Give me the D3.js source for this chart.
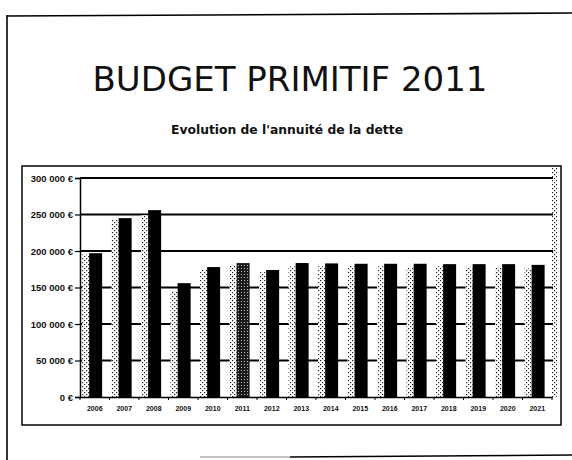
<!DOCTYPE html>
<html>
<head>
<meta charset="utf-8">
<script src="https://cdn.jsdelivr.net/npm/d3@7"></script>
<style>
  html, body { margin: 0; padding: 0; background: #fff; }
  svg { display: block; }
</style>
</head>
<body>
<svg id="chart" width="572" height="460"></svg>
<script>
// ---- data ----
const title = "BUDGET PRIMITIF 2011";
const subtitle = "Evolution de l'annuité de la dette";
const categories = ["2006","2007","2008","2009","2010","2011","2012","2013","2014","2015","2016","2017","2018","2019","2020","2021"];
const annuiteValues = [197000, 245000, 256000, 156000, 178000, 183500, 174000, 183500, 183000, 182500, 182500, 182500, 182000, 182000, 182000, 181000];
const secondValues  = [195000, 242500, 249000, 145000, 174000, 181000, 171000, 179000, 179000, 180000, 179000, 177000, 179000, 178000, 178000, 176000];
const highlightCategory = "2011";
const yTickValues = [0, 50000, 100000, 150000, 200000, 250000, 300000];
const yTickLabels = ["0 €", "50 000 €", "100 000 €", "150 000 €", "200 000 €", "250 000 €", "300 000 €"];

// ---- layout ----
const svg = d3.select("#chart");
const plot = { left: 80, right: 552, top: 178, bottom: 397 };

const defs = svg.append("defs");
// sparse dotted pattern (light series as scanned)
const pLight = defs.append("pattern").attr("id", "dots").attr("patternUnits", "userSpaceOnUse")
  .attr("width", 4).attr("height", 4);
pLight.append("rect").attr("width", 4).attr("height", 4).attr("fill", "#fff");
pLight.append("rect").attr("x", 0).attr("y", 0).attr("width", 1.2).attr("height", 1.2).attr("fill", "#222");
pLight.append("rect").attr("x", 2).attr("y", 2).attr("width", 1.2).attr("height", 1.2).attr("fill", "#222");
// dense stipple for highlighted bar
const pDark = defs.append("pattern").attr("id", "stipple").attr("patternUnits", "userSpaceOnUse")
  .attr("width", 3).attr("height", 3);
pDark.append("rect").attr("width", 3).attr("height", 3).attr("fill", "#1a1a1a");
pDark.append("rect").attr("x", 1).attr("y", 1).attr("width", 1).attr("height", 1).attr("fill", "#bbb");

// page frame
svg.append("line").attr("x1", 7).attr("y1", 16).attr("x2", 572).attr("y2", 13)
  .attr("stroke", "#000").attr("stroke-width", 1.6);
svg.append("line").attr("x1", 7).attr("y1", 15).attr("x2", 7).attr("y2", 460)
  .attr("stroke", "#000").attr("stroke-width", 1.6);
svg.append("line").attr("x1", 200).attr("y1", 457).attr("x2", 290).attr("y2", 457)
  .attr("stroke", "#888").attr("stroke-width", 1);
svg.append("line").attr("x1", 290).attr("y1", 457).attr("x2", 572).attr("y2", 455)
  .attr("stroke", "#000").attr("stroke-width", 1.6);

// titles
svg.append("text").attr("x", 290).attr("y", 91).attr("text-anchor", "middle")
  .attr("font-family", "DejaVu Sans").attr("font-size", 34).attr("fill", "#111")
  .text(title);
svg.append("text").attr("x", 287).attr("y", 134).attr("text-anchor", "middle")
  .attr("font-family", "DejaVu Sans").attr("font-weight", "bold").attr("font-size", 12.5)
  .attr("textLength", 232).attr("lengthAdjust", "spacingAndGlyphs")
  .attr("fill", "#111").text(subtitle);

// chart box
svg.append("rect").attr("x", 22).attr("y", 166).attr("width", 539).attr("height", 259)
  .attr("fill", "none").attr("stroke", "#000").attr("stroke-width", 1.5);

// scales
const x = d3.scaleBand().domain(categories).range([plot.left, plot.right]).paddingInner(0).paddingOuter(0);
const y = d3.scaleLinear().domain([0, 300000]).range([plot.bottom, plot.top]);
const bw = x.bandwidth();

// right wall dotted strip
svg.append("rect").attr("x", plot.right).attr("y", 168).attr("width", 5).attr("height", plot.bottom - 168)
  .attr("fill", "url(#dots)");

// gridlines
svg.append("g").selectAll("line").data(yTickValues.filter(v => v > 0)).join("line")
  .attr("x1", plot.left).attr("x2", plot.right + 1)
  .attr("y1", d => y(d)).attr("y2", d => y(d))
  .attr("stroke", "#000").attr("stroke-width", 1.8);

// y axis
const yAxis = d3.axisLeft(y).tickValues(yTickValues)
  .tickFormat((d, i) => yTickLabels[i]).tickSize(5).tickPadding(2);
const gy = svg.append("g").attr("transform", `translate(${plot.left},0)`).call(yAxis);
gy.select(".domain").attr("stroke", "#000").attr("stroke-width", 1.5);
gy.selectAll(".tick line").attr("stroke", "#000").attr("stroke-width", 1.2);
gy.selectAll(".tick text").attr("font-family", "Liberation Sans").attr("font-weight", "bold")
  .attr("font-size", 9.5).attr("fill", "#111");

// bars: light series
svg.append("g").selectAll("rect").data(categories).join("rect")
  .attr("x", d => x(d) + bw * 0.07)
  .attr("width", bw * 0.24)
  .attr("y", (d, i) => y(secondValues[i]))
  .attr("height", (d, i) => y(0) - y(secondValues[i]))
  .attr("fill", "url(#dots)");

// bars: dark series
svg.append("g").selectAll("rect").data(categories).join("rect")
  .attr("x", d => x(d) + bw * 0.31)
  .attr("width", bw * 0.44)
  .attr("y", (d, i) => y(annuiteValues[i]))
  .attr("height", (d, i) => y(0) - y(annuiteValues[i]))
  .attr("fill", d => d === highlightCategory ? "url(#stipple)" : "#000");

// x axis
const xAxis = d3.axisBottom(x).tickSize(0).tickPadding(9);
const gx = svg.append("g").attr("transform", `translate(0,${plot.bottom})`).call(xAxis);
gx.select(".domain").attr("stroke", "#000").attr("stroke-width", 1.6);
gx.selectAll(".tick text").attr("font-family", "Liberation Sans").attr("font-weight", "bold")
  .attr("font-size", 7).attr("fill", "#111");
// small category separators
svg.append("g").selectAll("line").data(categories.concat(["__end"])).join("line")
  .attr("x1", d => d === "__end" ? plot.right : x(d))
  .attr("x2", d => d === "__end" ? plot.right : x(d))
  .attr("y1", plot.bottom).attr("y2", plot.bottom + 3)
  .attr("stroke", "#000").attr("stroke-width", 1);
</script>
</body>
</html>
